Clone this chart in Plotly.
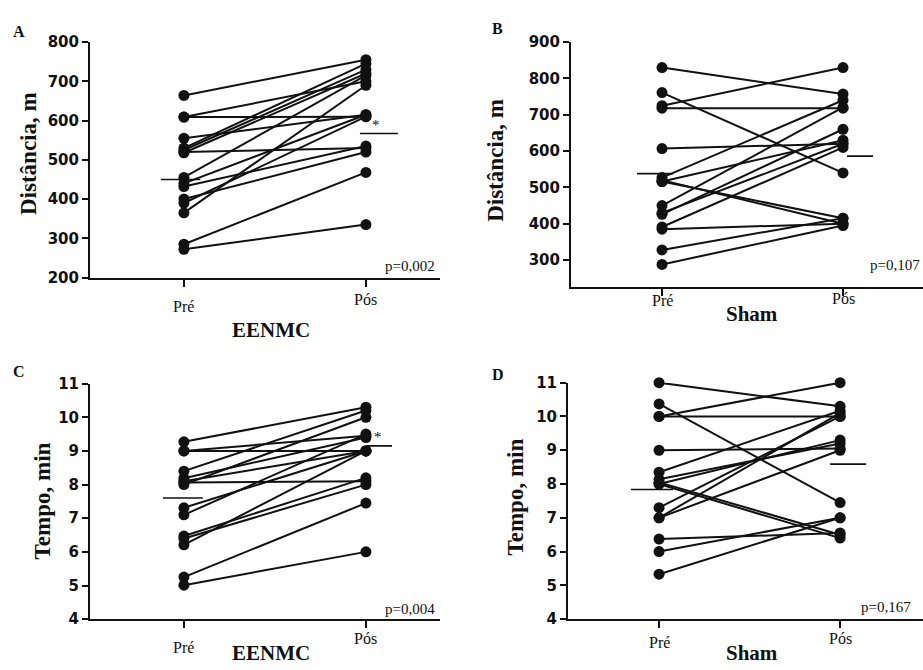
import plotly.graph_objects as go

W, H = 923, 670

# ---------------- data ----------------
groups = ["Pré", "Pós"]

A_pre = [664, 609, 609, 555, 530, 525, 520, 518, 455, 440, 432, 400, 390, 365, 285, 272]
A_pos = [755, 610, 700, 615, 745, 730, 530, 720, 715, 615, 535, 520, 610, 690, 468, 335]
A_mean = [450, 567]

B_pre = [830, 761, 725, 718, 607, 527, 520, 516, 516, 450, 430, 426, 391, 385, 328, 288]
B_pos = [757, 540, 830, 718, 620, 740, 400, 415, 630, 720, 620, 660, 610, 400, 415, 395]
B_mean = [538, 586]

C_pre = [9.27, 9.0, 9.0, 8.4, 8.19, 8.06, 8.0, 8.1, 7.31, 7.1, 6.47, 6.21, 6.4, 5.25, 5.01]
C_pos = [10.3, 9.0, 9.45, 10.2, 9.4, 8.1, 10.0, 9.0, 9.0, 9.5, 8.2, 9.0, 8.0, 7.45, 6.0]
C_mean = [7.6, 9.15]

D_pre = [11.0, 10.37, 10.0, 10.0, 9.0, 8.35, 8.14, 8.0, 8.05, 8.0, 7.3, 7.0, 7.0, 6.37, 6.0, 5.33]
D_pos = [10.3, 7.45, 11.0, 10.0, 9.05, 10.17, 9.2, 9.3, 6.5, 6.4, 10.0, 9.0, 10.1, 6.55, 7.0, 7.0]
D_mean = [7.84, 8.59]

A_yticks = [200, 300, 400, 500, 600, 700, 800]
B_yticks = [300, 400, 500, 600, 700, 800, 900]
CD_yticks = [4, 5, 6, 7, 8, 9, 10, 11]

panel_letters = ["A", "B", "C", "D"]
y_titles = ["Distância, m", "Distância, m", "Tempo, min", "Tempo, min"]
x_titles = ["EENMC", "Sham", "EENMC", "Sham"]
p_values = ["p=0,002", "p=0,107", "p=0,004", "p=0,167"]
# ---------------------------------------

INK = "#111111"
SERIF = "Liberation Serif, Times New Roman, serif"
SANS = "DejaVu Sans, sans-serif"


def fx(p):
    return p / W


def fy(p):
    return 1 - p / H


panels = [
    dict(pre=A_pre, pos=A_pos, mean=A_mean, xd=(90, 440), yd=(276, 34), xr=(-0.516, 1.407),
         yr=(200, 800), ticks=A_yticks,
         mx=[(-0.126, 0.09), (-0.033, 0.176)],
         letter=(19, 23), ytitle=(29, 149), xtitle=(271, 330),
         lab=[(306,), (299,)], pval=(437, 264), star=(376, 119)),
    dict(pre=B_pre, pos=B_pos, mean=B_mean, xd=(571, 923), yd=(286, 34), xr=(-0.503, 1.442),
         yr=(225, 900), ticks=B_yticks,
         mx=[(-0.138, 0.061), (0.022, 0.166)],
         letter=(497, 20), ytitle=(496, 155), xtitle=(752, 313),
         lab=[(300,), (298,)], pval=(922, 263), star=None),
    dict(pre=C_pre, pos=C_pos, mean=C_mean, xd=(90, 440), yd=(627, 385), xr=(-0.516, 1.407),
         yr=(4, 11), ticks=CD_yticks,
         mx=[(-0.115, 0.104), (0.005, 0.143)],
         letter=(19, 372), ytitle=(42, 506), xtitle=(271, 662),
         lab=[(656,), (647,)], pval=(437, 617), star=(378, 440)),
    dict(pre=D_pre, pos=D_pos, mean=D_mean, xd=(568, 923), yd=(627, 384), xr=(-0.503, 1.458),
         yr=(4, 11), ticks=CD_yticks,
         mx=[(-0.155, 0.077), (-0.055, 0.144)],
         letter=(498, 376), ytitle=(516, 502), xtitle=(752, 662),
         lab=[(651,), (647,)], pval=(913, 614), star=None),
]

fig = go.Figure()
annotations = []

for i, p in enumerate(panels):
    n = "" if i == 0 else str(i + 1)
    xa, ya = "x" + n, "y" + n
    # paired lines + markers
    xs, ys = [], []
    for a, b in zip(p["pre"], p["pos"]):
        xs += [0, 1, None]
        ys += [a, b, None]
    fig.add_trace(go.Scatter(x=xs, y=ys, mode="lines+markers", xaxis=xa, yaxis=ya,
                             line=dict(color=INK, width=2),
                             marker=dict(color=INK, size=11),
                             showlegend=False, cliponaxis=False, hoverinfo="skip"))
    # mean lines
    for k in range(2):
        x0, x1 = p["mx"][k]
        fig.add_trace(go.Scatter(x=[k + x0, k + x1], y=[p["mean"][k], p["mean"][k]],
                                 mode="lines", xaxis=xa, yaxis=ya,
                                 line=dict(color=INK, width=1.6),
                                 showlegend=False, cliponaxis=False, hoverinfo="skip"))

    xkey = "xaxis" + n
    ykey = "yaxis" + n
    fig.layout[xkey] = dict(domain=[fx(p["xd"][0]), fx(p["xd"][1])], range=list(p["xr"]),
                            anchor=ya, showline=True, linecolor=INK, linewidth=2,
                            showgrid=False, zeroline=False, tickvals=[0, 1],
                            ticktext=groups, showticklabels=False,
                            ticks="outside", ticklen=7, tickwidth=2, tickcolor=INK,
                            fixedrange=True)
    fig.layout[ykey] = dict(domain=[fy(p["yd"][0]), fy(p["yd"][1])], range=list(p["yr"]),
                            anchor=xa, showline=True, linecolor=INK, linewidth=2,
                            showgrid=False, zeroline=False, tickvals=p["ticks"],
                            ticktext=["<b>%s</b>" % t for t in p["ticks"]],
                            ticks="outside", ticklen=6, tickwidth=2, tickcolor=INK,
                            tickfont=dict(family=SANS, size=15, color=INK),
                            fixedrange=True)

    # x category labels (Pré / Pós)
    for k in range(2):
        annotations.append(dict(x=k, xref=xa, y=fy(p["lab"][k][0]), yref="paper",
                                text=groups[k], showarrow=False, xanchor="center",
                                yanchor="middle",
                                font=dict(family=SERIF, size=16, color=INK)))
    # x title
    annotations.append(dict(x=fx(p["xtitle"][0]), y=fy(p["xtitle"][1]), xref="paper", yref="paper",
                            text="<b>" + x_titles[i] + "</b>", showarrow=False,
                            xanchor="center", yanchor="middle",
                            font=dict(family=SERIF, size=21, color=INK)))
    # y title
    annotations.append(dict(x=fx(p["ytitle"][0]), y=fy(p["ytitle"][1]), xref="paper", yref="paper",
                            text="<b>" + y_titles[i] + "</b>", showarrow=False, textangle=-90,
                            xanchor="center", yanchor="middle",
                            font=dict(family=SERIF, size=23, color=INK)))
    # panel letter
    annotations.append(dict(x=fx(p["letter"][0]), y=fy(p["letter"][1]), xref="paper", yref="paper",
                            text="<b>" + panel_letters[i] + "</b>", showarrow=False,
                            xanchor="center", yanchor="middle",
                            font=dict(family=SERIF, size=16, color=INK)))
    # p-value
    annotations.append(dict(x=fx(p["pval"][0]), y=fy(p["pval"][1]), xref="paper", yref="paper",
                            text=p_values[i], showarrow=False, xanchor="right", yanchor="middle",
                            font=dict(family=SERIF, size=15, color=INK)))
    if p["star"]:
        annotations.append(dict(x=fx(p["star"][0]), y=fy(p["star"][1]), xref="paper", yref="paper",
                                text="*", showarrow=False, xanchor="center", yanchor="middle",
                                font=dict(family=SERIF, size=15, color=INK)))

fig.update_layout(width=W, height=H, margin=dict(l=0, r=0, t=0, b=0),
                  paper_bgcolor="white", plot_bgcolor="white",
                  annotations=annotations, showlegend=False)

fig.write_html("out.html")
